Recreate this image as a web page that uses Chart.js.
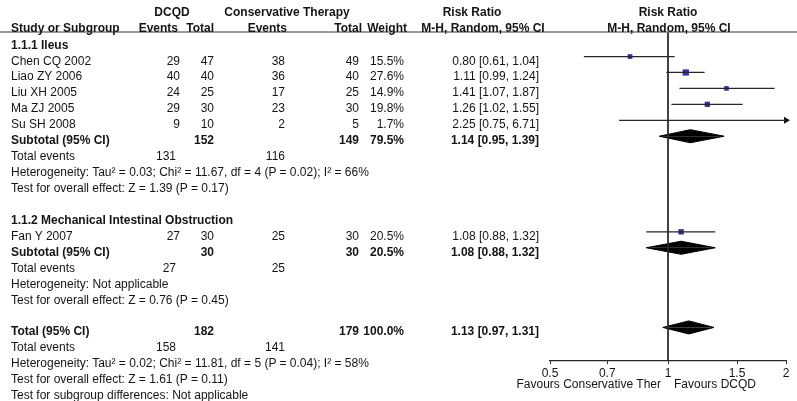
<!DOCTYPE html>
<html>
<head>
<meta charset="utf-8">
<script src="https://cdn.jsdelivr.net/npm/chart.js@4/dist/chart.umd.min.js"></script>
<style>
html,body{margin:0;padding:0;background:#fff;}
#wrap{position:relative;width:797px;height:401px;overflow:hidden;}
#plot{position:absolute;left:0;top:0;}
.t{position:absolute;font-family:"Liberation Sans",Arial,sans-serif;font-size:12px;line-height:14px;color:#141414;white-space:nowrap;}
.b{font-weight:bold;}
</style>
</head>
<body>
<div id="wrap"><canvas id="plot" width="797" height="401"></canvas></div>
<script>
// study rows
const studyNames=['Chen CQ 2002','Liao ZY 2006','Liu XH 2005','Ma ZJ 2005','Su SH 2008','Fan Y 2007'];
const studyRows=[0,1,2,3,4,11];
const dcqdEvents=[29,40,24,29,9,27];
const dcqdTotal=[47,40,25,30,10,30];
const consEvents=[38,36,17,23,2,25];
const consTotal=[49,40,25,30,5,30];
const weights=[15.5,27.6,14.9,19.8,1.7,20.5];
const riskRatio=[0.80,1.11,1.41,1.26,2.25,1.08];
const ciLow=[0.61,0.99,1.07,1.02,0.75,0.88];
const ciHigh=[1.04,1.24,1.87,1.55,6.71,1.32];

// subtotal / total rows
const pooledNames=['Subtotal (95% CI)','Subtotal (95% CI)','Total (95% CI)'];
const pooledRows=[5,12,17];
const pooledDcqdTotal=[152,30,182];
const pooledConsTotal=[149,30,179];
const pooledWeights=[79.5,20.5,100.0];
const pooledRR=[1.14,1.08,1.13];
const pooledLow=[0.95,0.88,0.97];
const pooledHigh=[1.39,1.32,1.31];

const groupTitles=['1.1.1 Ileus','1.1.2 Mechanical Intestinal Obstruction'];
const groupRows=[-1,10];
const eventRows=[6,13,18];
const eventsDcqd=[131,27,158];
const eventsCons=[116,25,141];
const hetRows=[7,14,19];
const hetTexts=[
  'Heterogeneity: Tau\u00b2 = 0.03; Chi\u00b2 = 11.67, df = 4 (P = 0.02); I\u00b2 = 66%',
  'Heterogeneity: Not applicable',
  'Heterogeneity: Tau\u00b2 = 0.02; Chi\u00b2 = 11.81, df = 5 (P = 0.04); I\u00b2 = 58%'
];
const effectRows=[8,15,20];
const effectTexts=[
  'Test for overall effect: Z = 1.39 (P = 0.17)',
  'Test for overall effect: Z = 0.76 (P = 0.45)',
  'Test for overall effect: Z = 1.61 (P = 0.11)'
];
const footRow=21;
const footText='Test for subgroup differences: Not applicable';

const xTicks=[0.5,0.7,1,1.5,2];
const X_MIN=0.5,X_MAX=2;
const Y_MIN=-1.54,Y_MAX=19.05;

// styling
const INK='#141414',LINE='#262626',BLUE='#34349a';
const ROW_TEXT_SHIFT=4;
const DIAMOND_HALF=0.41;
const SQUARE_K=1.2;

const datasets=[];
// line of no effect
datasets.push({type:'line',data:[{x:1,y:Y_MIN},{x:1,y:Y_MAX}],borderColor:LINE,borderWidth:1,pointRadius:0});
// confidence intervals
studyNames.forEach((name,i)=>{
  datasets.push({type:'line',data:[{x:ciLow[i],y:studyRows[i]},{x:ciHigh[i],y:studyRows[i]}],borderColor:LINE,borderWidth:1.2,pointRadius:0});
});
// arrow heads where the interval runs past the axis
const arrowPoints=studyNames.map((n,i)=>ciHigh[i]>X_MAX?{x:X_MAX,y:studyRows[i]}:null).filter(Boolean);
datasets.push({type:'scatter',data:arrowPoints,pointStyle:'triangle',rotation:90,pointRadius:4,backgroundColor:'#111',borderWidth:0,clip:false});
// weighted squares
datasets.push({type:'scatter',data:studyNames.map((n,i)=>({x:riskRatio[i],y:studyRows[i]})),pointStyle:'rect',
  pointRadius:weights.map(w=>SQUARE_K*Math.sqrt(w)/Math.SQRT2),backgroundColor:BLUE,borderWidth:0});
// pooled diamonds, top and bottom halves
pooledRows.forEach((row,i)=>{
  [-DIAMOND_HALF,DIAMOND_HALF].forEach(h=>{
    datasets.push({type:'line',data:[{x:pooledLow[i],y:row},{x:pooledRR[i],y:row+h},{x:pooledHigh[i],y:row}],
      borderColor:'#000',backgroundColor:'#000',borderWidth:1,pointRadius:0,tension:0,fill:{value:row}});
  });
});

const headerRule={
  id:'headerRule',
  afterDraw(c){
    const ctx=c.ctx,y=c.chartArea.top;
    ctx.save();
    ctx.strokeStyle='#7a7a7a';
    ctx.lineWidth=1.5;
    ctx.beginPath();
    ctx.moveTo(0,y);
    ctx.lineTo(c.width,y);
    ctx.stroke();
    ctx.restore();
  }
};

const chart=new Chart(document.getElementById('plot'),{
  type:'line',
  data:{datasets},
  options:{
    responsive:false,
    animation:false,
    devicePixelRatio:1,
    layout:{padding:{left:550,right:11,top:32,bottom:18.5}},
    plugins:{legend:{display:false},tooltip:{enabled:false}},
    scales:{
      x:{
        type:'logarithmic',min:X_MIN,max:X_MAX,
        afterBuildTicks:s=>{s.ticks=xTicks.map(v=>({value:v}));},
        ticks:{callback:v=>String(v),color:INK,font:{family:'Liberation Sans',size:12},padding:2,maxRotation:0,autoSkip:false},
        grid:{drawOnChartArea:false,tickLength:4,color:LINE},
        border:{color:LINE,width:1.2}
      },
      y:{type:'linear',min:Y_MIN,max:Y_MAX,reverse:true,display:false}
    }
  },
  plugins:[headerRule]
});

// table text
const wrap=document.getElementById('wrap');
function put(text,x,y,align,bold){
  const d=document.createElement('div');
  d.className='t'+(bold?' b':'');
  d.textContent=text;
  d.style.top=(y-7)+'px';
  if(align==='right'){d.style.right=(797-x)+'px';}
  else if(align==='center'){d.style.left=x+'px';d.style.transform='translateX(-50%)';}
  else{d.style.left=x+'px';}
  wrap.appendChild(d);
}
const yPx=r=>chart.scales.y.getPixelForValue(r)+ROW_TEXT_SHIFT;
const xPx=v=>chart.scales.x.getPixelForValue(v);
const fmtCI=(m,l,h)=>m.toFixed(2)+' ['+l.toFixed(2)+', '+h.toFixed(2)+']';

const H1=yPx(-3.03),H2=yPx(-2.05);
put('DCQD',172,H1,'center',true);
put('Conservative Therapy',287,H1,'center',true);
put('Risk Ratio',472,H1,'center',true);
put('Risk Ratio',xPx(1),H1,'center',true);
put('Study or Subgroup',11,H2,'left',true);
put('Events',178,H2,'right',true);
put('Total',214,H2,'right',true);
put('Events',287,H2,'right',true);
put('Total',362,H2,'right',true);
put('Weight',407,H2,'right',true);
put('M-H, Random, 95% CI',483,H2,'center',true);
put('M-H, Random, 95% CI',xPx(1)+1,H2,'center',true);

groupTitles.forEach((t,i)=>put(t,11,yPx(groupRows[i]),'left',true));

studyNames.forEach((name,i)=>{
  const y=yPx(studyRows[i]);
  put(name,11,y,'left',false);
  put(String(dcqdEvents[i]),180,y,'right',false);
  put(String(dcqdTotal[i]),214,y,'right',false);
  put(String(consEvents[i]),285,y,'right',false);
  put(String(consTotal[i]),359,y,'right',false);
  put(weights[i].toFixed(1)+'%',404,y,'right',false);
  put(fmtCI(riskRatio[i],ciLow[i],ciHigh[i]),539,y,'right',false);
});

pooledNames.forEach((name,i)=>{
  const y=yPx(pooledRows[i]);
  put(name,11,y,'left',true);
  put(String(pooledDcqdTotal[i]),214,y,'right',true);
  put(String(pooledConsTotal[i]),359,y,'right',true);
  put(pooledWeights[i].toFixed(1)+'%',404,y,'right',true);
  put(fmtCI(pooledRR[i],pooledLow[i],pooledHigh[i]),539,y,'right',true);
});

eventRows.forEach((r,i)=>{
  const y=yPx(r);
  put('Total events',11,y,'left',false);
  put(String(eventsDcqd[i]),176,y,'right',false);
  put(String(eventsCons[i]),285,y,'right',false);
});
hetRows.forEach((r,i)=>put(hetTexts[i],11,yPx(r),'left',false));
effectRows.forEach((r,i)=>put(effectTexts[i],11,yPx(r),'left',false));
put(footText,11,yPx(footRow),'left',false);

const favY=chart.chartArea.bottom+24;
put('Favours Conservative Ther',xPx(1)-7,favY,'right',false);
put('Favours DCQD',xPx(1)+6,favY,'left',false);
</script>
</body>
</html>
